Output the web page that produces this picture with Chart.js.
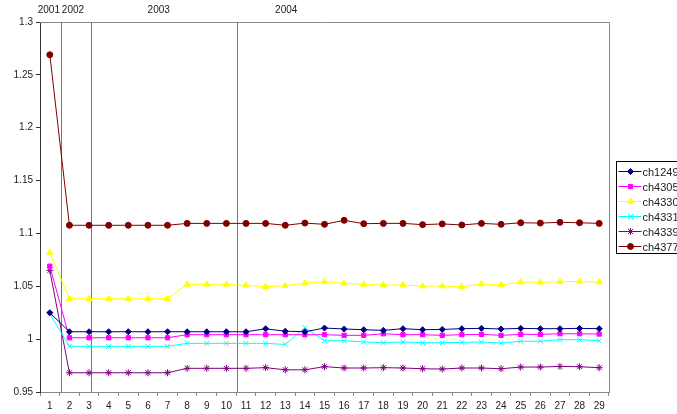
<!DOCTYPE html>
<html>
<head>
<meta charset="utf-8">
<script src="https://cdn.jsdelivr.net/npm/chart.js@4/dist/chart.umd.min.js"></script>
<style>
  html, body { margin: 0; padding: 0; background: #fff; }
  #wrap { width: 677px; height: 414px; position: relative; }
</style>
</head>
<body>
<div id="wrap"><canvas id="chart"></canvas></div>
<script>
// categories (measurement number)
const labels = ['1','2','3','4','5','6','7','8','9','10','11','12','13','14','15',
                '16','17','18','19','20','21','22','23','24','25','26','27','28','29'];

const ch1249 = [1.025, 1.007, 1.007, 1.007, 1.007, 1.007, 1.007, 1.007, 1.007, 1.007,
                1.007, 1.0098, 1.0075, 1.007, 1.0105, 1.0096, 1.0089, 1.0083, 1.0099, 1.0089,
                1.0092, 1.0099, 1.0102, 1.0096, 1.0102, 1.0099, 1.0099, 1.0102, 1.0099];
const ch4305 = [1.069, 1.0013, 1.0013, 1.0013, 1.0013, 1.0013, 1.0013, 1.0042, 1.0042, 1.0042,
                1.0042, 1.0042, 1.0042, 1.0042, 1.0042, 1.0036, 1.0036, 1.0051, 1.0042, 1.0042,
                1.0036, 1.0042, 1.0045, 1.0036, 1.0045, 1.0045, 1.0051, 1.0051, 1.0048];
const ch4330 = [1.082, 1.0382, 1.0382, 1.0382, 1.0382, 1.0382, 1.0382, 1.0518, 1.0518, 1.0518,
                1.0509, 1.0496, 1.0505, 1.053, 1.0543, 1.0528, 1.0518, 1.0512, 1.0512, 1.0502,
                1.0502, 1.0496, 1.0521, 1.0512, 1.054, 1.0537, 1.0543, 1.0546, 1.054];
const ch4331 = [1.024, 0.9932, 0.9932, 0.9932, 0.9932, 0.9932, 0.9932, 0.996, 0.996, 0.996,
                0.996, 0.996, 0.995, 1.0108, 0.9985, 0.9985, 0.9973, 0.9966, 0.9973, 0.9966,
                0.9966, 0.9969, 0.9973, 0.9963, 0.998, 0.998, 0.9995, 0.9995, 0.9985];
const ch4339 = [1.065, 0.9682, 0.9682, 0.9682, 0.9682, 0.9682, 0.9682, 0.9724, 0.9724, 0.9724,
                0.9724, 0.973, 0.971, 0.971, 0.974, 0.9727, 0.9727, 0.973, 0.9727, 0.972,
                0.9717, 0.9727, 0.9727, 0.972, 0.9736, 0.9736, 0.9742, 0.9739, 0.973];
const ch4377 = [1.269, 1.1077, 1.1077, 1.1077, 1.1077, 1.1077, 1.1077, 1.1095, 1.1095, 1.1095,
                1.1095, 1.1095, 1.1077, 1.1098, 1.1086, 1.1124, 1.1092, 1.1095, 1.1095, 1.1083,
                1.109, 1.108, 1.1095, 1.1086, 1.1101, 1.1098, 1.1105, 1.1101, 1.1095];

// year separators (category index) and year captions
const yearLines = [0.57, 2.09, 9.52];
const yearNames = ['2001', '2002', '2003', '2004'];
const yearLabelPos = [-0.05, 1.18, 5.55, 12.05];

const series = [
  { name: 'ch1249', data: ch1249, color: '#000080', style: 'rectRot', r: 3 },
  { name: 'ch4305', data: ch4305, color: '#FF00FF', style: 'rect', r: 3 },
  { name: 'ch4330', data: ch4330, color: '#FFFF00', style: 'triangle', r: 3.5 },
  { name: 'ch4331', data: ch4331, color: '#00FFFF', style: 'crossRot', r: 3.5 },
  { name: 'ch4339', data: ch4339, color: '#800080', style: 'star', r: 3.5 },
  { name: 'ch4377', data: ch4377, color: '#800000', style: 'circle', r: 3 }
];

const FONT = 'Liberation Sans, Arial, sans-serif';

const decorPlugin = {
  id: 'decor',
  beforeDatasetsDraw(chart) {
    const ctx = chart.ctx;
    const a = chart.chartArea;
    const x = chart.scales.x;
    ctx.save();
    // plot border (top and right)
    ctx.strokeStyle = '#888';
    ctx.lineWidth = 1;
    ctx.beginPath();
    ctx.moveTo(a.left, Math.round(a.top) + 0.5);
    ctx.lineTo(Math.round(a.right) + 0.5, Math.round(a.top) + 0.5);
    ctx.lineTo(Math.round(a.right) + 0.5, a.bottom);
    ctx.stroke();
    // year separators
    ctx.strokeStyle = '#777';
    yearLines.forEach(v => {
      const px = Math.round(x.getPixelForValue(v)) + 0.5;
      ctx.beginPath();
      ctx.moveTo(px, a.top);
      ctx.lineTo(px, a.bottom);
      ctx.stroke();
    });
    // year captions
    ctx.fillStyle = '#222';
    ctx.font = '10px ' + FONT;
    ctx.textAlign = 'center';
    ctx.textBaseline = 'middle';
    yearNames.forEach((t, i) => {
      ctx.fillText(t, x.getPixelForValue(yearLabelPos[i]), 10);
    });
    ctx.restore();
  },
  afterDraw(chart) {
    const ctx = chart.ctx;
    ctx.save();
    // legend box
    const bx = 616.5, by = 161.5, step = 15;
    ctx.strokeStyle = '#000';
    ctx.lineWidth = 1;
    ctx.strokeRect(bx, by, 90, 92);
    ctx.font = '11px ' + FONT;
    ctx.textBaseline = 'middle';
    ctx.textAlign = 'left';
    series.forEach((s, i) => {
      const yy = by + 10 + i * step;
      ctx.strokeStyle = s.color;
      ctx.beginPath();
      ctx.moveTo(bx + 2, yy);
      ctx.lineTo(bx + 25, yy);
      ctx.stroke();
      ctx.fillStyle = s.color;
      Chart.helpers.drawPoint(ctx, {pointStyle: s.style, radius: s.r, rotation: 0, borderWidth: 1}, bx + 14, yy);
      ctx.fillStyle = '#222';
      ctx.fillText(s.name, bx + 26, yy + 1);
    });
    ctx.restore();
  }
};

new Chart(document.getElementById('chart'), {
  type: 'line',
  data: {
    labels: labels,
    datasets: series.map(s => ({
      label: s.name,
      data: s.data,
      borderColor: s.color,
      backgroundColor: s.color,
      borderWidth: 1,
      pointStyle: s.style,
      pointRadius: s.r,
      pointBorderWidth: 1,
      pointBorderColor: s.color,
      pointBackgroundColor: s.color,
      tension: 0
    }))
  },
  options: {
    responsive: true,
    maintainAspectRatio: false,
    animation: false,
    layout: { padding: { left: 0, top: 22, right: 68, bottom: 0 } },
    plugins: {
      legend: { display: false },
      tooltip: { enabled: false }
    },
    scales: {
      x: {
        type: 'category',
        offset: true,
        grid: {
          display: true,
          offset: true,
          drawOnChartArea: false,
          drawTicks: true,
          tickLength: 4,
          color: '#888'
        },
        border: { display: true, color: '#888' },
        ticks: {
          color: '#222',
          font: { family: FONT, size: 10 },
          padding: 4,
          maxRotation: 0,
          autoSkip: false
        },
        afterFit(scale) { scale.height = 22; }
      },
      y: {
        min: 0.95,
        max: 1.3,
        grid: {
          display: true,
          drawOnChartArea: false,
          drawTicks: true,
          tickLength: 4,
          color: '#333'
        },
        border: { display: true, color: '#333' },
        ticks: {
          stepSize: 0.05,
          color: '#222',
          font: { family: FONT, size: 10 },
          padding: 3,
          callback: v => String(Number(v.toFixed(2)))
        },
        afterFit(scale) { scale.width = 40; }
      }
    }
  },
  plugins: [decorPlugin]
});
</script>
</body>
</html>
